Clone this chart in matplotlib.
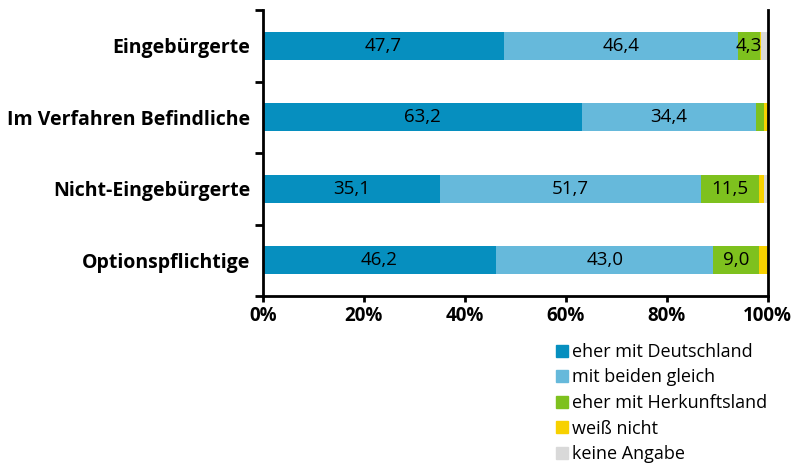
import numpy as np
import matplotlib.pyplot as plt
from matplotlib.patches import Patch

plt.rcParams['font.family'] = ['Open Sans', 'DejaVu Sans']

groups = ['Eingebürgerte', 'Im Verfahren Befindliche', 'Nicht-Eingebürgerte', 'Optionspflichtige']
series = ['eher mit Deutschland', 'mit beiden gleich', 'eher mit Herkunftsland', 'weiß nicht', 'keine Angabe']
deutschland = [47.7, 63.2, 35.1, 46.2]
beide = [46.4, 34.4, 51.7, 43.0]
herkunft = [4.3, 1.6, 11.5, 9.0]
weiss_nicht = [0.3, 0.8, 1.0, 1.8]
keine_angabe = [1.3, 0.0, 0.7, 0.0]
colors = ['#068FBF', '#66B9DB', '#7EC11E', '#F7D100', '#D9D9D9']

data = np.array([deutschland, beide, herkunft, weiss_nicht, keine_angabe])

fig = plt.figure(figsize=(7.99, 4.65), dpi=100)
ax = fig.add_axes([0.329, 0.3634, 0.632, 0.615])

y = np.arange(len(groups))
left = np.zeros(len(groups))
for i, name in enumerate(series):
    ax.barh(y, data[i], left=left, height=0.39, color=colors[i], label=name)
    if i < 3:
        for j in range(len(groups)):
            v = data[i, j]
            if v >= 4:
                ax.text(left[j] + v / 2, y[j], f'{v:.1f}'.replace('.', ','),
                        ha='center', va='center', fontsize=13.5, color='black')
    left += data[i]

ax.set_xlim(0, 100)
ax.set_ylim(3.5, -0.5)
ax.set_xticks([0, 20, 40, 60, 80, 100])
ax.set_xticklabels(['0%', '20%', '40%', '60%', '80%', '100%'], fontweight='bold', fontsize=13.5)
ax.set_yticks(y)
ax.set_yticklabels(groups, fontweight='bold', fontsize=14)
ax.tick_params(axis='y', length=0, pad=9)
ax.set_yticks([-0.5, 0.5, 1.5, 2.5, 3.5], minor=True)
ax.tick_params(axis='y', which='minor', length=6, width=2)
ax.tick_params(axis='x', length=4, width=2, pad=3)
ax.spines['top'].set_visible(False)
for s in ['left', 'bottom', 'right']:
    ax.spines[s].set_linewidth(2)

handles = [Patch(color=c) for c in colors]
fig.legend(handles, series, loc='upper left', bbox_to_anchor=(0.685, 0.282),
           frameon=False, fontsize=13, handlelength=0.65, handleheight=0.65,
           handletextpad=0.2, labelspacing=0.42, borderpad=0)

fig.savefig('out.png', dpi=100)
